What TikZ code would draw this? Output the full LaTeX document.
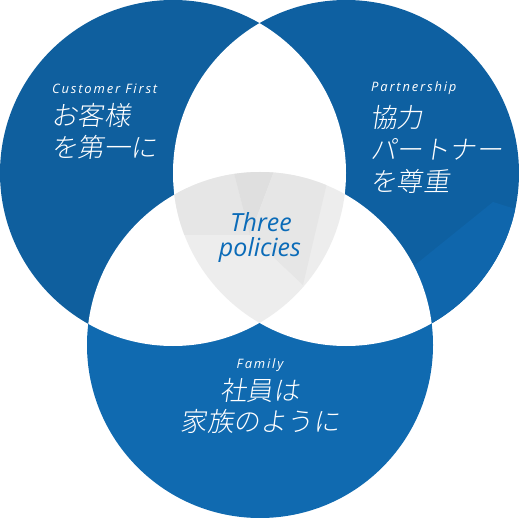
\documentclass[tikz,border=0pt]{standalone}
\usepackage{fontspec}
\setmainfont{Open Sans}
\newfontfamily\jpfont[FakeSlant=0.15]{Noto Sans CJK JP Light}
\newfontfamily\enfont[LetterSpace=14]{Open Sans}
\definecolor{blueA}{HTML}{0F5F9E}
\definecolor{blueB}{HTML}{0E60A1}
\definecolor{blueBl}{HTML}{0F66AC}
\definecolor{blueC}{HTML}{106AB0}
\definecolor{grayT}{HTML}{EDEDED}
\definecolor{grayM}{HTML}{E6E6E6}
\definecolor{grayD}{HTML}{DFDFDF}
\definecolor{txtblue}{HTML}{0B6BB8}
\tikzset{
  entext/.style={inner sep=0pt, text=white, font=\enfont\itshape\fontsize{13}{15}\selectfont},
  jptext/.style={inner sep=0pt, text=white, font=\jpfont\fontsize{26.5}{30}\selectfont},
  centertext/.style={inner sep=0pt, text=txtblue, font=\itshape\fontsize{25}{28}\selectfont}
}
\begin{document}
\begin{tikzpicture}[x=1pt,y=-1pt]
\useasboundingbox (0,0) rectangle (519,518);
\def\R{173pt}
\coordinate (cA) at (173,173);
\coordinate (cB) at (346,173);
\coordinate (cC) at (260,345);
% circles
\fill[blueA] (cA) circle[radius=\R];
\fill[blueB] (cB) circle[radius=\R];
\begin{scope}
  \clip (cB) circle[radius=\R];
  \fill[blueBl] (493,202) -- (525,212) -- (525,340) -- (400,340) -- (415,265) -- cycle;
\end{scope}
\fill[blueC] (cC) circle[radius=\R];
% pairwise intersections white
\begin{scope}
  \clip (cA) circle[radius=\R];
  \fill[white] (cB) circle[radius=\R];
  \fill[white] (cC) circle[radius=\R];
\end{scope}
\begin{scope}
  \clip (cB) circle[radius=\R];
  \fill[white] (cC) circle[radius=\R];
\end{scope}
% triple intersection gray
\begin{scope}
  \clip (cA) circle[radius=\R];
  \clip (cB) circle[radius=\R];
  \clip (cC) circle[radius=\R];
  \fill[grayT] (150,150) rectangle (370,330);
  \fill[grayM] (150,150) -- (228,150) -- (250,235) -- (150,235) -- cycle;
  \fill[grayD] (228,150) -- (282,150) -- (250,235) -- cycle;
  \fill[grayM] (282,150) -- (330,170) -- (303,285) -- (250,235) -- cycle;
\end{scope}
% texts
\node[entext, anchor=base west] (cf) at (52,94) {Customer First};
\node[jptext, anchor=base west] (cf1) at (51,126) {お客様};
\node[jptext, anchor=base west] (cf2) at (51,158) {を第一に};
\node[entext, anchor=base west] (pt) at (371,92) {Partnership};
\node[jptext, anchor=base west] (pt1) at (370,128) {協力};
\node[jptext, anchor=base west] (pt2) at (370,160) {パートナー};
\node[jptext, anchor=base west] (pt3) at (370,192) {を尊重};
\node[entext, anchor=base] (fm) at (260,368) {Family};
\node[jptext, anchor=base] (fm1) at (260,400) {社員は};
\node[jptext, anchor=base] (fm2) at (260,431) {家族のように};
\node[centertext, anchor=base] (th) at (261,232) {Three};
\node[centertext, anchor=base] (po) at (260,257) {policies};
\end{tikzpicture}
\end{document}
